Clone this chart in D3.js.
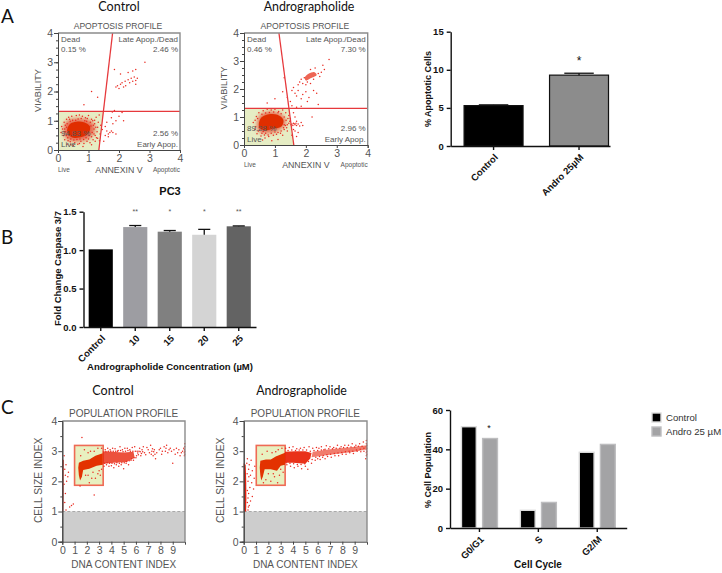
<!DOCTYPE html>
<html>
<head>
<meta charset="utf-8">
<script src="https://d3js.org/d3.v7.min.js"></script>
<style>
body { margin: 0; background: #fff; }
svg { display: block; }
text { font-family: "Liberation Sans", Arial, sans-serif; }
.hdr { font-family: Lato, "Open Sans", sans-serif; fill: #111; }
.guava text { fill: #555; }
.prism text { font-weight: bold; fill: #111; font-size: 9.5px; }
</style>
</head>
<body>
<svg id="fig" width="722" height="573"></svg>
<script>
// ---- bar chart values ----
var apopCats = ["Control", "Andro 25µM"];
var apopVals = [5.3, 9.3];
var apopErr = [0.1, 0.25];
var apopFill = ["#000000", "#8c8c8c"];

var casCats = ["Control", "10", "15", "20", "25"];
var casVals = [1.01, 1.30, 1.24, 1.20, 1.31];
var casErr = [0, 0.02, 0.015, 0.07, 0.005];
var casFill = ["#000000", "#9d9da2", "#808080", "#d4d4d4", "#636363"];
var casSig = ["", "**", "*", "*", "**"];

var cycleCats = ["G0/G1", "S", "G2/M"];
var cycleSeries = ["Control", "Andro 25 µM"];
var cycleControl = [51.5, 9, 38.5];
var cycleAndro = [45.5, 13, 42.5];

// ---- apoptosis profile, control ----
var apCtrlQuad = { top: 1.79, bottom: 1.34, h: 1.32 };
var apCtrlCore = [[.3,.7],[.4,.9],[.6,.97],[.85,.95],[1.05,.8],[1,.57],[.8,.45],[.5,.42],[.33,.54]];
var apCtrlHaze = [[.18,.7],[.3,1.0],[.7,1.08],[1.1,.98],[1.22,.7],[1.05,.42],[.7,.3],[.3,.36]];
var apCtrlPts = [[1.9,2.15],[1.95,2.2],[2,2.1],[2.05,2.25],[2.1,2.3],[2.15,2.15],[2.2,2.35],[2.22,2.2],[2.3,2.4],[2.35,2.3],[2.4,2.45],[2.45,2.35],[2.5,2.5],[2.55,2.38],[2.6,2.45],[2.3,2.65],[2.45,2.7],[2.55,2.75],[2.85,3],[2.55,2.25],[1.85,2.75],[2.05,2.6],[1.1,2],[1.3,1.8],[.85,1.55],[1.78,1.3],[1.85,1.35],[2.1,1.28],[2,1.15],[1.9,1],[2.15,1],[1.75,1.1],[1.8,.9],[1.55,.8],[1.6,.65],[1.65,.55],[1.7,.6],[1.75,.65],[1.55,.5],[1.65,.45],[1.8,.6],[1.5,.3],[1.45,.7],[1.6,.95],[1.9,.55],
 [.1,.6],[.12,.8],[.18,.5],[.2,.95],[.22,.35],[.28,1.05],[.3,.2],[.35,1.12],[.4,.28],[.45,1.15],[.5,.15],[.55,.25],[.6,1.18],[.65,.2],[.7,1.2],[.75,.3],[.8,1.15],[.85,.22],[.9,1.1],[.95,.3],[1,1.18],[1.05,.25],[1.1,1.05],[1.15,.35],[1.2,.9],[1.22,.5],[1.25,1.12],[1.28,.62],[1.3,.78],[1.32,.95],[1.35,1.2],[1.38,.55],[1.4,.85],[1.12,.6],[1.18,.72],[1.08,.82],[.25,.62],[.28,.78],[.22,.72],[.32,.42],[.4,.98],[.58,1.02],[.92,.42],[1.02,.5],
 [.15,.72],[.2,.62],[.24,.85],[.27,.5],[.3,.9],[.33,.32],[.38,1.05],[.42,.38],[.48,1.02],[.52,.34],[.62,.36],[.66,1.06],[.72,.38],[.76,1.08],[.84,.36],[.88,1],[.94,.98],[1,.38],[1.06,.95],[1.1,.45],[1.16,.85],[1.18,.55],[1.24,.78],[1.26,.42],[1.14,1],[1.2,1.02],[.96,1.08],[.7,.22],[1.22,.3],[1.3,.4],[1.1,.18],[1.36,.32],[.42,.18],[.82,.12]];

// ---- apoptosis profile, andrographolide ----
var apAndQuad = { top: 1.13, bottom: 1.61, h: 1.31 };
var apAndCore = [[.48,.74],[.56,.98],[.8,1.1],[1.08,1.08],[1.27,.9],[1.22,.67],[.95,.58],[.7,.52],[.52,.58]];
var apAndHaze = [[.42,.72],[.52,1.06],[.85,1.2],[1.22,1.08],[1.36,.8],[1.12,.52],[.75,.42],[.48,.48]];
var apAndBlob = [[1.97,2.42],[2.1,2.55],[2.28,2.6],[2.35,2.5],[2.15,2.38],[2,2.3]];
var apAndPts = [[1.75,2.15],[1.8,2.25],[1.85,2.35],[1.9,2.2],[1.95,2.4],[2,2.15],[2.05,2.25],[2.15,2.2],[2.25,2.35],[2.4,2.55],[2.45,2.45],[2.5,2.6],[2.6,2.7],[2.55,2.85],[2.75,3.05],[2.3,2.75],[2.15,2.7],[1.55,1.95],[1.6,2.05],[1.65,1.85],[1.7,1.75],[1.75,1.95],[1.85,1.65],[1.9,1.8],[2,1.9],[2.05,1.55],[2.1,1.7],[2.25,1.95],[2.35,1.85],[2.4,1.45],[1.5,1.55],[1.4,1.7],[1.3,2.4],[1.25,1.9],[.75,1.5],[1,1.65],[1.55,1.4],[1.7,1.35],[1.85,1.38],[1.6,1.15],[1.65,1],[1.7,.85],[1.55,.75],[1.6,.78],[1.65,.72],[1.7,.7],[1.75,.75],[1.8,.68],[1.85,.8],[1.9,.7],[1.6,.55],[1.65,.5],[1.75,.45],[1.7,.3],[1.5,.95],[1.55,.35],[1.45,1.05],[2.2,1],
 [.3,.8],[.35,.55],[.4,1.02],[.42,.4],[.48,1.15],[.55,.32],[.62,1.22],[.68,.25],[.75,1.28],[.8,.3],[.88,1.25],[.95,.35],[1,1.28],[1.05,.38],[1.12,1.2],[1.18,.42],[1.25,1.25],[1.3,.55],[1.35,1.15],[1.38,.62],[1.42,.95],[1.45,.78],[1.48,.85],[1.4,.5],[1.3,.72],[1.25,.35],[.6,.18],[.9,.15],[1.1,.2],[.5,.62],[.62,.48],[.7,.42],
 [.38,.65],[.36,.88],[.44,.95],[.46,.5],[.58,.42],[.66,.36],[.78,.36],[.88,.42],[1,.46],[1.1,.45],[1.2,.5],[1.28,.62],[1.34,.7],[1.36,.88],[1.3,1],[1.2,1.12],[1.1,1.15],[.96,1.18],[.82,1.16],[.7,1.14],[.58,1.1],[1.4,.72],[1.52,.72],[1.58,.7],[1.62,.76],[1.68,.78]];

// ---- population profile, control ----
var popCtrlBox = { x0: 1, x1: 3.33, y0: 1.87, y1: 3.19 };
var popCtrlCore = [[1.3,2.45],[1.35,2.62],[1.7,2.68],[2.2,2.72],[2.7,2.85],[3.3,2.93],[3.3,2.55],[2.8,2.52],[2.2,2.42],[1.7,2.38],[1.6,2.15],[1.45,2.03],[1.35,2.2]];
var popCtrlHaze = [[3.3,2.58],[4.2,2.62],[5.2,2.64],[5.9,2.78],[5.8,2.98],[5,2.96],[4,2.98],[3.3,3]];
var popCtrlStrip = [[0,1],[.08,1],[.1,1.5],[.1,2.2],[.12,2.7],[0,2.75]];
var popCtrlPts = [[.3,1.05],[.6,1.15],[.9,1.25],[.25,1.6],[.35,2],[.5,2.3],[.2,2.4],[.3,2.55],[.15,2.85],[.25,2.2],[.45,2.15],[.15,1.9],[.2,1.3],[.75,1.2],
 [1.6,3.45],[1.8,3.05],[2.3,3],[2.9,3.1],[2.1,2.95],[1.5,2.85],[2.6,3],[3.2,3.1],[1.45,1.85],[2.2,1.95],[2.7,2.1],[2.4,2.1],[2.9,2.25],[1.9,2.2],[2.1,2.2],[2.5,2.3],[3,2.35],[3.1,2.2],[2.6,1.55],[3.2,2.4],
 [3.4,2.5],[3.5,3.05],[3.6,2.55],[3.7,3.1],[3.8,2.5],[3.9,3.05],[4,2.52],[4.1,3.1],[4.2,2.45],[4.3,3.08],[4.4,2.55],[4.5,3],[4.6,2.5],[4.7,3.15],[4.8,2.55],[4.9,3.05],[5,2.42],[5.1,3.1],[5.2,2.6],[5.3,3.1],[5.4,2.55],[5.5,3.05],[5.6,2.7],[5.7,3.12],[5.8,2.7],[5.9,3.15],[6,2.78],[6.1,3],[6.2,2.88],[6.3,3.1],[6.4,2.85],[6.5,3.05],[6.6,3.15],[6.7,2.95],[6.8,2.88],[6.9,3.12],[7,3.05],[7.1,2.95],[7.2,3.2],[7.3,3],[7.4,2.85],[7.5,3.05],[7.6,2.75],[7.7,2.95],[7.9,3.05],[8,3.1],[8.1,2.9],[8.3,3.15],[8.4,3],[8.5,3.2],[8.6,2.95],[8.8,3.1],[8.9,3],[9,2.6],[9.1,3.05],[9.2,2.9],[9.4,2.95],[9.5,3.05],[9.6,2.85],[9.7,2.95],[9.8,3],[9.9,3.1],[9.95,2.85],[9.95,2.95],[9.95,3.05],[9.98,3.15],[9.98,3.25],[9.98,2.9],[9.98,3],
 [3.45,2.6],[3.55,2.98],[3.65,2.62],[3.75,3],[3.85,2.6],[3.95,3],[4.05,2.6],[4.15,3],[4.25,2.58],[4.35,3],[4.45,2.62],[4.55,3.02],[4.65,2.6],[4.75,3.02],[4.85,2.62],[4.95,2.98],[5.05,2.62],[5.15,3],[5.25,2.66],[5.35,3.02],[5.45,2.68],[5.55,3],[5.65,2.75],[5.75,3],[5.85,2.78],[5.95,3],[6.05,2.85],[6.15,2.94],[6.25,3],[6.35,2.98],[6.45,2.92],[6.55,2.98],[7.25,2.9],[7.35,3.08],[7.45,2.98],[7.55,2.9],[8.15,3],[8.45,3.1],[8.7,3.05],[9.3,3.1]];

// ---- population profile, andrographolide ----
var popAndBox = { x0: 1.02, x1: 3.36, y0: 1.87, y1: 3.19 };
var popAndCore = [[1.3,2.45],[1.35,2.68],[1.8,2.72],[2.2,2.72],[2.6,2.82],[3.35,2.95],[3.35,2.55],[3,2.52],[2.7,2.35],[2.2,2.4],[1.7,2.4],[1.55,2.15],[1.42,2.03],[1.35,2.2]];
var popAndBand = [[3.35,2.62],[4,2.62],[5,2.58],[5.4,2.76],[5.5,2.94],[5,3],[4.2,3],[3.35,2.98]];
var popAndHaze = [[5.5,2.8],[7,2.88],[9,2.98],[10,3.06],[10,3.2],[8.5,3.12],[7,3.06],[5.6,2.98]];
var popAndStrip = [[0,1],[.2,1],[.22,1.5],[.2,2.1],[.16,2.55],[0,2.6]];
var popAndPts = [[.35,1.05],[.45,1.2],[.55,1.35],[.7,1.5],[.4,1.6],[.5,1.8],[.65,1.95],[.8,1.75],[.35,2],[.55,2.2],[.7,2.35],[.4,2.4],[.25,2.6],[.3,2.75],[.45,2.55],[.6,2.7],[.85,2.1],[.9,2.5],[.3,1.3],[.35,1.45],[.3,1.7],[.42,2.15],[.28,2.25],[.38,1.15],
 [1.5,2.9],[1.9,3],[2.3,2.95],[2.8,3.05],[3.1,3.1],[2.6,2.98],[1.8,2.05],[2.2,2],[2.5,2.15],[2.9,2.2],[3.2,2.3],[2,2.25],[2.4,2.25],[1.6,1.95],[3,2.4],[2.75,1.95],
 [3.4,3.1],[3.5,2.55],[3.7,3.12],[3.8,2.5],[4,3.15],[4.1,2.45],[4.3,3.08],[4.4,2.5],[4.6,3.1],[4.7,2.42],[4.9,3.12],[5,2.5],[5.2,2.4],[5.3,3.15],[5.5,2.6],[5.6,3.1],[5.8,2.7],[5.9,3.12],[6,2.75],[6.1,3.1],[6.2,2.72],[6.3,3.15],[6.4,2.8],[6.5,3.05],[6.6,2.75],[6.7,3.18],[6.8,2.82],[7,3.15],[7.1,2.8],[7.3,3.12],[7.4,2.85],[7.6,3.2],[7.7,2.85],[7.9,3.15],[8,2.9],[8.2,3.2],[8.3,2.9],[8.5,3.2],[8.6,2.95],[8.8,3.25],[8.9,2.92],[9.1,3.2],[9.2,3],[9.4,3.25],[9.5,2.98],[9.7,3.3],[9.75,3],[9.9,2.75],[9.95,2.85],[9.95,2.95],[9.95,3.05],[9.95,3.15],[9.95,3.25],[9.95,3.35],[9.98,2.9],[9.98,3],[9.98,3.1],[9.98,3.2],
 [3.45,2.62],[3.6,3.02],[3.75,2.6],[3.9,3.04],[4.05,2.58],[4.2,3.02],[4.35,2.56],[4.5,3.04],[4.65,2.56],[4.8,3.04],[4.95,2.58],[5.1,3.04],[5.25,2.66],[5.4,3],[5.55,2.72],[5.7,3.02],[5.85,2.8],[6,3.02],[6.15,2.82],[6.3,3.04],[6.45,2.86],[6.6,3.06],[6.75,2.88],[6.9,3.08],[7.05,2.9],[7.2,3.08],[7.35,2.92],[7.5,3.1],[7.65,2.94],[7.8,3.1],[7.95,2.96],[8.1,3.12],[8.25,2.98],[8.4,3.12],[8.55,3],[8.7,3.14],[8.85,3],[9,3.14],[9.15,3.04],[9.3,3.16],[9.45,3.06],[9.6,3.16],[9.75,3.1]];

var svg = d3.select("#fig");

// soft edges for the dense parts of the clouds
var defs = svg.append("defs");
[["soft1", .7], ["soft2", 1.3], ["soft3", 2.2]].forEach(function(f) {
  defs.append("filter").attr("id", f[0]).attr("x", "-30%").attr("y", "-30%").attr("width", "160%").attr("height", "160%")
    .append("feGaussianBlur").attr("stdDeviation", f[1]);
});

// header letters and panel titles
function hdr(txt, x, y, size, anchor) {
  svg.append("text").attr("class", "hdr").attr("x", x).attr("y", y)
    .attr("font-size", size).attr("text-anchor", anchor || "middle").text(txt);
}
hdr("A", 1, 23, 19, "start");
hdr("B", 1, 244, 19, "start");
hdr("C", 1, 414, 19, "start");
hdr("Control", 119, 11, 12.6);
hdr("Andrographolide", 309, 11, 12.4);
hdr("Control", 113, 395, 12.6);
hdr("Andrographolide", 301.5, 395, 12.4);

function polyPath(x, y, pts, curved) {
  return d3.line().x(function(d){ return x(d[0]); }).y(function(d){ return y(d[1]); })
    .curve(curved ? d3.curveCatmullRomClosed : d3.curveLinearClosed)(pts);
}

// the guava style frame shared by both scatter kinds
function guavaAxes(g, x, y, xTicks, yMinor) {
  var w = x.range()[1], h = y.range()[0];
  g.append("path").attr("fill", "none").attr("stroke", "#8c8c8c").attr("stroke-width", 1.4)
    .attr("d", "M" + x.range()[0] + "," + y.range()[1] + "H" + w + "V" + h);

  var ax = g.append("g").attr("transform", "translate(" + x.range()[0] + ",0)")
    .call(d3.axisLeft(y).tickValues([0,1,2,3,4]).tickSize(4).tickPadding(1).tickFormat(d3.format("d")));
  var ax2 = g.append("g").attr("transform", "translate(" + x.range()[0] + ",0)")
    .call(d3.axisLeft(y).tickValues(yMinor).tickSize(2).tickFormat(""));
  var bx = g.append("g").attr("transform", "translate(0," + h + ")")
    .call(d3.axisBottom(x).tickValues(xTicks).tickSize(3).tickPadding(2).tickFormat(d3.format("d")));
  [ax, ax2, bx].forEach(function(a){
    a.selectAll("path,line").attr("stroke", "#444");
    a.selectAll("text").attr("font-size", 10.5);
  });
}

function drawApop(o) {
  var x = d3.scaleLinear().domain([0, 4]).range([o.x0, o.x1]);
  var y = d3.scaleLinear().domain([0, 4]).range([o.y0, o.y1]);
  var g = svg.append("g").attr("class", "guava");
  var q = o.quad;
  var cross = q.bottom + (q.top - q.bottom) * q.h / 4;

  // live gate
  g.append("path").attr("fill", "#e6edc4")
    .attr("d", polyPath(x, y, [[0,0],[q.bottom,0],[cross,q.h],[0,q.h]]));
  g.append("path").attr("fill", "#e8321a").attr("opacity", .7).attr("filter", "url(#soft3)").attr("d", polyPath(x, y, o.haze, true));
  g.selectAll("circle.pt").data(o.pts).enter().append("circle").attr("class", "pt")
    .attr("cx", function(d){ return x(d[0]); }).attr("cy", function(d){ return y(d[1]); })
    .attr("r", .75).attr("fill", "#ea2a20");
  g.append("path").attr("fill", "#e02e00").attr("filter", "url(#soft1)").attr("d", polyPath(x, y, o.core, true));
  if (o.blob) g.append("path").attr("fill", "#e8321a").attr("opacity", .75).attr("filter", "url(#soft1)").attr("d", polyPath(x, y, o.blob, true));

  // quadrant lines
  g.append("line").attr("x1", x(q.bottom)).attr("y1", y(0)).attr("x2", x(q.top)).attr("y2", y(4))
    .attr("stroke", "#e6393c").attr("stroke-width", 1.3);
  g.append("line").attr("x1", x(0)).attr("y1", y(q.h)).attr("x2", x(4)).attr("y2", y(q.h))
    .attr("stroke", "#e6393c").attr("stroke-width", 1.3);

  guavaAxes(g, x, y, [0,1,2,3,4], d3.range(0, 4, .25));

  var lab = function(txt, px, py, size, anchor) {
    g.append("text").attr("x", px).attr("y", py).attr("font-size", size)
      .attr("text-anchor", anchor || "start").text(txt);
  };
  var mid = (o.x0 + o.x1) / 2;
  lab("APOPTOSIS PROFILE", mid - 1, o.y1 - 4, 8.6, "middle");
  lab("Dead", o.x0 + 3, o.y1 + 9, 8);
  lab(o.dead, o.x0 + 3, o.y1 + 19, 8);
  lab("Late Apop./Dead", o.x1 - 2, o.y1 + 9, 8, "end");
  lab(o.late, o.x1 - 2, o.y1 + 19, 8, "end");
  lab(o.live, o.x0 + 3, o.y0 - 14, 8);
  lab("Live", o.x0 + 3, o.y0 - 3, 8);
  lab(o.early, o.x1 - 2, o.y0 - 14, 8, "end");
  lab("Early Apop.", o.x1 - 2, o.y0 - 3, 8, "end");
  lab("ANNEXIN V", mid, o.y0 + 23, 8.8, "middle");
  lab("Live", o.x0, o.y0 + 22, 6.5);
  lab("Apoptotic", o.x1, o.y0 + 22, 6.5, "end");
  g.append("text").attr("transform", "translate(" + (o.x0 - 17) + "," + ((o.y0 + o.y1) / 2 - 1) + ") rotate(-90)")
    .attr("font-size", 9.2).attr("text-anchor", "middle").text("VIABILITY");
}

function drawPop(o) {
  var x = d3.scaleLinear().domain([0, 10]).range([o.x0, o.x1]);
  var y = d3.scaleLinear().domain([0, 4]).range([o.y0, o.y1]);
  var g = svg.append("g").attr("class", "guava");
  var b = o.box;

  // debris region below index 1
  g.append("rect").attr("x", x(0)).attr("y", y(1)).attr("width", x(10) - x(0)).attr("height", y(0) - y(1))
    .attr("fill", "#cdcdcd");
  g.append("line").attr("x1", x(0)).attr("y1", y(1)).attr("x2", x(10)).attr("y2", y(1))
    .attr("stroke", "#a8a8a8").attr("stroke-width", 1).attr("stroke-dasharray", "3,2");

  g.append("rect").attr("x", x(b.x0)).attr("y", y(b.y1)).attr("width", x(b.x1) - x(b.x0))
    .attr("height", y(b.y0) - y(b.y1)).attr("fill", "#e8f0c0").attr("stroke", "#ef6a55").attr("stroke-width", 1.6);

  o.hazes.forEach(function(h){
    g.append("path").attr("fill", "#e8260c").attr("opacity", h.op).attr("filter", "url(#soft1)").attr("d", polyPath(x, y, h.pts, false));
  });
  g.selectAll("circle.pt").data(o.pts).enter().append("circle").attr("class", "pt")
    .attr("cx", function(d){ return x(d[0]); }).attr("cy", function(d){ return y(d[1]); })
    .attr("r", .75).attr("fill", "#ea2a20");
  g.append("path").attr("fill", "#e33000").attr("filter", "url(#soft1)").attr("d", polyPath(x, y, o.core, false));
  g.append("path").attr("fill", "#e8200f").attr("d", polyPath(x, y, o.strip, false));

  guavaAxes(g, x, y, d3.range(0, 10), [.5,1.5,2.5,3.5]);

  var mid = (o.x0 + o.x1) / 2;
  g.append("text").attr("x", mid).attr("y", o.y1 - 4).attr("font-size", 10).attr("text-anchor", "middle").text("POPULATION PROFILE");
  g.append("text").attr("x", mid).attr("y", o.y0 + 26).attr("font-size", 10).attr("text-anchor", "middle").text("DNA CONTENT INDEX");
  g.append("text").attr("transform", "translate(" + (o.x0 - 20) + "," + ((o.y0 + o.y1) / 2 - 1) + ") rotate(-90)")
    .attr("font-size", 10.3).attr("text-anchor", "middle").text("CELL SIZE INDEX");
}

drawApop({ x0: 58, x1: 180, y0: 150, y1: 33, quad: apCtrlQuad, core: apCtrlCore, haze: apCtrlHaze, pts: apCtrlPts,
  dead: "0.15 %", late: "2.46 %", live: "94.83 %", early: "2.56 %" });
drawApop({ x0: 244, x1: 367.7, y0: 145, y1: 33, quad: apAndQuad, core: apAndCore, haze: apAndHaze, blob: apAndBlob, pts: apAndPts,
  dead: "0.46 %", late: "7.30 %", live: "89.28 %", early: "2.96 %" });
drawPop({ x0: 62.3, x1: 185, y0: 541.7, y1: 421, box: popCtrlBox, core: popCtrlCore, strip: popCtrlStrip, pts: popCtrlPts,
  hazes: [{ pts: popCtrlHaze, op: .8 }] });
drawPop({ x0: 243.7, x1: 367, y0: 541.7, y1: 421, box: popAndBox, core: popAndCore, strip: popAndStrip, pts: popAndPts,
  hazes: [{ pts: popAndBand, op: .95 }, { pts: popAndHaze, op: .6 }] });

// prism style axes, thick black with bold labels
function prismAxes(g, x, y, h) {
  var bx = g.append("g").attr("transform", "translate(0," + h + ")")
    .call(d3.axisBottom(x).tickSize(4).tickSizeOuter(0));
  var ly = g.append("g").attr("transform", "translate(" + x.range()[0] + ",0)").call(y);
  [bx, ly].forEach(function(a){
    a.selectAll("path,line").attr("stroke", "#111").attr("stroke-width", 1.4);
    a.selectAll("text").attr("font-size", 9.5);
  });
  bx.selectAll("text").attr("text-anchor", "end").attr("dx", 0).attr("dy", 0)
    .attr("y", 0).attr("x", 0)
    .attr("transform", "translate(5,12) rotate(-45)");
}

function errorBars(g, x, y, vals, errs, cats) {
  var sel = g.selectAll("g.err").data(cats.map(function(c, i){ return { c: c, v: vals[i], e: errs[i] }; })
    .filter(function(d){ return d.e > 0; })).enter().append("g").attr("class", "err");
  sel.append("line").attr("x1", function(d){ return x(d.c) + x.bandwidth() / 2; })
    .attr("x2", function(d){ return x(d.c) + x.bandwidth() / 2; })
    .attr("y1", function(d){ return y(d.v); }).attr("y2", function(d){ return y(d.v + d.e); })
    .attr("stroke", "#111").attr("stroke-width", 1.3);
  sel.append("line").attr("x1", function(d){ return x(d.c) + x.bandwidth() * .25; })
    .attr("x2", function(d){ return x(d.c) + x.bandwidth() * .75; })
    .attr("y1", function(d){ return y(d.v + d.e); }).attr("y2", function(d){ return y(d.v + d.e); })
    .attr("stroke", "#111").attr("stroke-width", 1.3);
}

// A, percent apoptotic cells
(function() {
  var g = svg.append("g").attr("class", "prism");
  var x = d3.scaleBand().domain(apopCats).range([450.7, 610]).paddingInner(.31).paddingOuter(.087).align(.9);
  var y = d3.scaleLinear().domain([0, 15]).range([146, 31.7]);
  g.selectAll("rect").data(apopCats).enter().append("rect")
    .attr("x", function(d){ return x(d); }).attr("width", x.bandwidth())
    .attr("y", function(d, i){ return y(apopVals[i]); })
    .attr("height", function(d, i){ return y(0) - y(apopVals[i]); })
    .attr("fill", function(d, i){ return apopFill[i]; })
    .attr("stroke", "#111").attr("stroke-width", 1.2);
  errorBars(g, x, y, apopVals, apopErr, apopCats);
  prismAxes(g, x, d3.axisLeft(y).tickValues([0,5,10,15]).tickSize(4).tickSizeOuter(0), 146);
  g.append("text").attr("x", x("Andro 25µM") + x.bandwidth() / 2).attr("y", 65).attr("text-anchor", "middle")
    .style("font-size", "12px").style("font-weight", "normal").text("*");
  g.append("text").attr("transform", "translate(431,89) rotate(-90)").attr("text-anchor", "middle").style("font-size", "9px").text("% Apoptotic Cells");
})();

// B, caspase 3/7
(function() {
  var g = svg.append("g").attr("class", "prism");
  var x = d3.scaleBand().domain(casCats).range([83.5, 256]).paddingInner(.3).paddingOuter(.15);
  var y = d3.scaleLinear().domain([0, 1.5]).range([327, 211.7]);
  g.selectAll("rect").data(casCats).enter().append("rect")
    .attr("x", function(d){ return x(d); }).attr("width", x.bandwidth())
    .attr("y", function(d, i){ return y(casVals[i]); })
    .attr("height", function(d, i){ return y(0) - y(casVals[i]); })
    .attr("fill", function(d, i){ return casFill[i]; });
  errorBars(g, x, y, casVals, casErr, casCats);
  prismAxes(g, x, d3.axisLeft(y).tickValues([0,.5,1,1.5]).tickSize(4).tickSizeOuter(0).tickFormat(d3.format(".1f")), 327);
  g.selectAll("text.sig").data(casCats).enter().append("text").attr("class", "sig")
    .attr("x", function(d){ return x(d) + x.bandwidth() / 2; }).attr("y", 214).attr("text-anchor", "middle")
    .style("font-size", "7px").style("font-weight", "normal").style("fill", "#555")
    .text(function(d, i){ return casSig[i]; });
  g.append("text").attr("x", 170).attr("y", 195).attr("text-anchor", "middle").style("font-size", "11px").text("PC3");
  g.append("text").attr("transform", "translate(61,268.5) rotate(-90)").attr("text-anchor", "middle").style("font-size", "9.5px").text("Fold Change Caspase 3/7");
  g.append("text").attr("x", 170).attr("y", 370).attr("text-anchor", "middle").text("Andrographolide Concentration (µM)");
})();

// C, cell cycle
(function() {
  var g = svg.append("g").attr("class", "prism");
  var x = d3.scaleBand().domain(cycleCats).range([450, 626.7]);
  var x1 = d3.scaleBand().domain(cycleSeries).range([-18, 18]).paddingInner(.3);
  var y = d3.scaleLinear().domain([0, 60]).range([528, 410]);
  var cols = { "Control": ["#000000", "#dcdcdc"], "Andro 25 µM": ["#a3a3a5", "#bdbdbf"] };
  var vals = { "Control": cycleControl, "Andro 25 µM": cycleAndro };
  cycleSeries.forEach(function(s) {
    g.selectAll("rect.s" + cycleSeries.indexOf(s)).data(cycleCats).enter().append("rect")
      .attr("class", "s" + cycleSeries.indexOf(s))
      .attr("x", function(d){ return x(d) + x.bandwidth() / 2 + x1(s); }).attr("width", x1.bandwidth())
      .attr("y", function(d, i){ return y(vals[s][i]); })
      .attr("height", function(d, i){ return y(0) - y(vals[s][i]); })
      .attr("fill", cols[s][0]).attr("stroke", cols[s][1]).attr("stroke-width", 1.4);
  });
  prismAxes(g, x, d3.axisLeft(y).tickValues([0,20,40,60]).tickSize(4).tickSizeOuter(0), 528);
  g.append("text").attr("x", x("G0/G1") + x.bandwidth() / 2 + x1(cycleSeries[1]) + x1.bandwidth() / 2 - 1).attr("y", 431)
    .attr("text-anchor", "middle").style("font-size", "9px").style("font-weight", "normal").text("*");
  g.append("text").attr("transform", "translate(431,470) rotate(-90)").attr("text-anchor", "middle").style("font-size", "9px").text("% Cell Population");
  g.append("text").attr("x", 538).attr("y", 568).attr("text-anchor", "middle").style("font-size", "10px").text("Cell Cycle");

  var leg = svg.append("g").selectAll("g").data(cycleSeries).enter().append("g")
    .attr("transform", function(d, i){ return "translate(652," + (413 + i * 14) + ")"; });
  leg.append("rect").attr("width", 9).attr("height", 9)
    .attr("fill", function(d){ return cols[d][0]; }).attr("stroke", function(d){ return cols[d][1]; }).attr("stroke-width", 1.4);
  leg.append("text").attr("x", 14).attr("y", 8).attr("font-size", 9.6).attr("fill", "#333").text(function(d){ return d; });
})();
</script>
</body>
</html>
